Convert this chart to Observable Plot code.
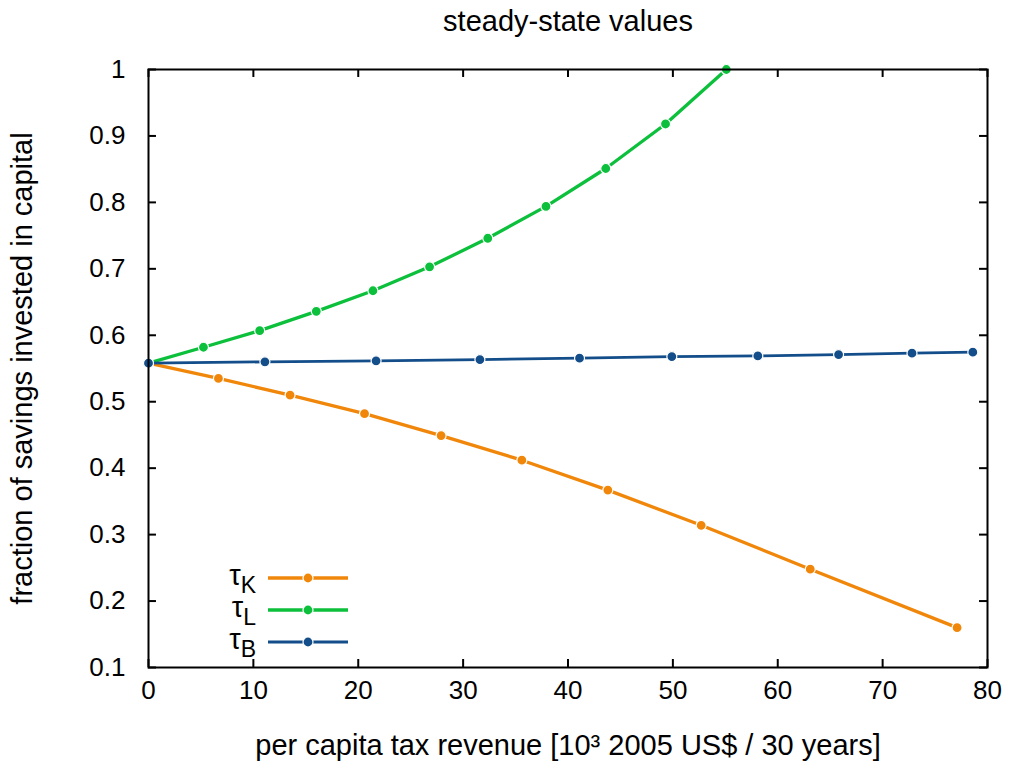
<!DOCTYPE html>
<html>
<head>
<meta charset="utf-8">
<script src="https://cdn.jsdelivr.net/npm/d3@7"></script>
<script src="https://cdn.jsdelivr.net/npm/@observablehq/plot@0.6"></script>
<style>
  html, body { margin: 0; padding: 0; background: #fff; }
  #chart { position: relative; width: 1009px; height: 765px; }
</style>
</head>
<body>
<div id="chart"></div>
<script>
// Steady-state fraction of savings invested in capital vs. per capita tax revenue
const seriesNames = ["K", "L", "B"];
const seriesColors = ["#f0870a", "#0cc03c", "#134e8a"];

// τK: capital tax
const xK = [0, 6.67, 13.5, 20.6, 27.9, 35.6, 43.8, 52.7, 63.1, 77.1];
const yK = [0.558, 0.535, 0.510, 0.482, 0.449, 0.412, 0.367, 0.314, 0.248, 0.160];
// τL: labour tax
const xL = [0, 5.24, 10.6, 16.0, 21.4, 26.8, 32.35, 37.9, 43.6, 49.3, 55.1];
const yL = [0.558, 0.582, 0.607, 0.636, 0.667, 0.703, 0.746, 0.794, 0.851, 0.918, 1.0];
// τB: bequest tax
const xB = [0, 11.1, 21.7, 31.6, 41.1, 49.9, 58.1, 65.8, 72.8, 78.6];
const yB = [0.558, 0.560, 0.5615, 0.5635, 0.5655, 0.568, 0.569, 0.571, 0.573, 0.5745];

const xTicks = [0, 10, 20, 30, 40, 50, 60, 70, 80];
const yTicks = [0.1, 0.2, 0.3, 0.4, 0.5, 0.6, 0.7, 0.8, 0.9, 1.0];

const titleText = "steady-state values";
const xLabel = "per capita tax revenue [10³ 2005 US$ / 30 years]";
const yLabel = "fraction of savings invested in capital";

const toRows = (xs, ys, s) => xs.map((x, i) => ({x, y: ys[i], s}));
const series = [toRows(xK, yK, "K"), toRows(xL, yL, "L"), toRows(xB, yB, "B")];
const lineWidths = {K: 3.3, L: 3.3, B: 2.8};

const font = "'Liberation Sans', Arial, Helvetica, sans-serif";
const tickLenX = 0.76;   // inward tick length in x units
const tickLenY = 0.012;  // inward tick length in y units

const marks = [];
// inward tick marks on all four sides
marks.push(Plot.ruleX(xTicks, {x: d => d, y1: 0.1, y2: 0.1 + tickLenY, stroke: "#000", strokeWidth: 2}));
marks.push(Plot.ruleX(xTicks, {x: d => d, y1: 1.0, y2: 1.0 - tickLenY, stroke: "#000", strokeWidth: 2}));
marks.push(Plot.ruleY(yTicks, {y: d => d, x1: 0, x2: tickLenX, stroke: "#000", strokeWidth: 2}));
marks.push(Plot.ruleY(yTicks, {y: d => d, x1: 80, x2: 80 - tickLenX, stroke: "#000", strokeWidth: 2}));

// series: line then points with a white rim
series.forEach((rows, i) => {
  const s = seriesNames[i];
  marks.push(Plot.line(rows, {x: "x", y: "y", stroke: seriesColors[i], strokeWidth: lineWidths[s]}));
  marks.push(Plot.dot(rows, {x: "x", y: "y", r: 5, fill: seriesColors[i], stroke: "#fff", strokeWidth: 1.2}));
});

marks.push(Plot.frame({stroke: "#000", strokeWidth: 2}));
marks.push(Plot.axisX(xTicks, {tickSize: 0, tickPadding: 13, fontSize: 26, label: null}));
marks.push(Plot.axisX(xTicks, {tickSize: 0, text: null, fontSize: 29, label: xLabel,
  labelAnchor: "center", labelOffset: 87, labelArrow: false}));
marks.push(Plot.axisY(yTicks, {tickSize: 0, tickPadding: 23, fontSize: 26,
  tickFormat: d => String(+d.toFixed(1)), label: null}));
marks.push(Plot.axisY(yTicks, {tickSize: 0, text: null, fontSize: 29, label: yLabel,
  labelAnchor: "center", labelOffset: 137, labelArrow: false}));
marks.push(Plot.text([titleText], {frameAnchor: "top", dy: -59, fontSize: 29, fill: "#000"}));

const svg = Plot.plot({
  width: 1009,
  height: 765,
  marginLeft: 148,
  marginRight: 22,
  marginTop: 69,
  marginBottom: 98,
  style: {fontFamily: font, fontSize: "26px", color: "#000", background: "#fff"},
  x: {domain: [0, 80]},
  y: {domain: [0.1, 1.0]},
  marks
});
document.getElementById("chart").appendChild(svg);

// key in the lower-left corner of the frame
const root = d3.select(svg);
const key = root.append("g").attr("font-family", font).attr("font-size", 29);
seriesNames.forEach((s, i) => {
  const cy = 578 + i * 32;
  const t = key.append("text").attr("x", 256).attr("y", cy + 7).attr("text-anchor", "end").attr("fill", "#000");
  t.append("tspan").text("τ");
  t.append("tspan").attr("dy", 8).attr("font-size", 23).text(s);
  key.append("line").attr("x1", 268).attr("x2", 348).attr("y1", cy).attr("y2", cy)
    .attr("stroke", seriesColors[i]).attr("stroke-width", lineWidths[s]);
  key.append("circle").attr("cx", 308).attr("cy", cy).attr("r", 5)
    .attr("fill", seriesColors[i]).attr("stroke", "#fff").attr("stroke-width", 1.2);
});
</script>
</body>
</html>
